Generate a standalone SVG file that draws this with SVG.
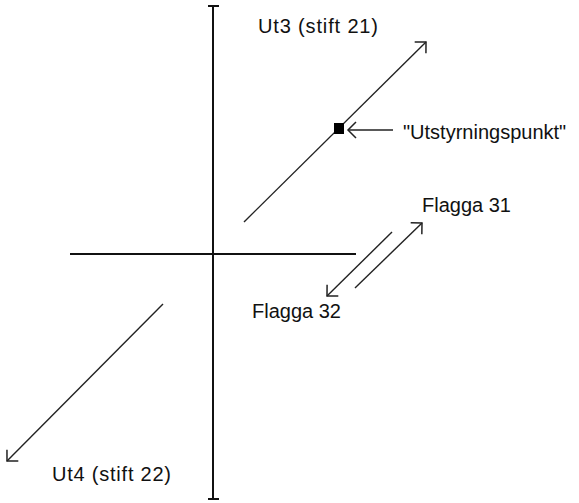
<svg xmlns="http://www.w3.org/2000/svg" width="579" height="503" viewBox="0 0 579 503">
<defs>
<style>
.axis{stroke:#111;stroke-width:2;fill:none}
.ln{stroke:#222;stroke-width:1.4;fill:none}
.t{font-family:"Liberation Sans",Arial,sans-serif;font-size:20px;fill:#111}
</style>
<marker id="arr" viewBox="-10 -10 12 20" markerWidth="12" markerHeight="20" refX="0" refY="0" orient="auto" markerUnits="userSpaceOnUse">
<path d="M-8,-8 L0,0 L-8,8" fill="none" stroke="#222" stroke-width="1.5"/>
</marker>
</defs>
<rect width="579" height="503" fill="#fff"/>
<g id="axes">
<line class="axis" x1="213" y1="5" x2="213" y2="500"/>
<line class="axis" x1="208" y1="6" x2="219" y2="6"/>
<line class="axis" x1="208" y1="499" x2="219" y2="499"/>
<line class="axis" x1="70" y1="254" x2="356" y2="254"/>
</g>
<g id="connectors">
<line class="ln" x1="244" y1="222" x2="426" y2="42" marker-end="url(#arr)"/>
<line class="ln" x1="393" y1="130" x2="348" y2="130" marker-end="url(#arr)"/>
<line class="ln" x1="392" y1="232" x2="327" y2="296" marker-end="url(#arr)"/>
<line class="ln" x1="355" y1="288" x2="422" y2="223" marker-end="url(#arr)"/>
<line class="ln" x1="163" y1="304" x2="7" y2="461" marker-end="url(#arr)"/>
</g>
<g id="point">
<rect x="334" y="123" width="10" height="11" fill="#000"/>
</g>
<g id="labels">
<text class="t" x="258" y="33" textLength="120" lengthAdjust="spacing">Ut3 (stift 21)</text>
<text class="t" x="403" y="139">"Utstyrningspunkt"</text>
<text class="t" x="422" y="212">Flagga 31</text>
<text class="t" x="252" y="318">Flagga 32</text>
<text class="t" x="52" y="481" textLength="119" lengthAdjust="spacing">Ut4 (stift 22)</text>
</g>
</svg>
